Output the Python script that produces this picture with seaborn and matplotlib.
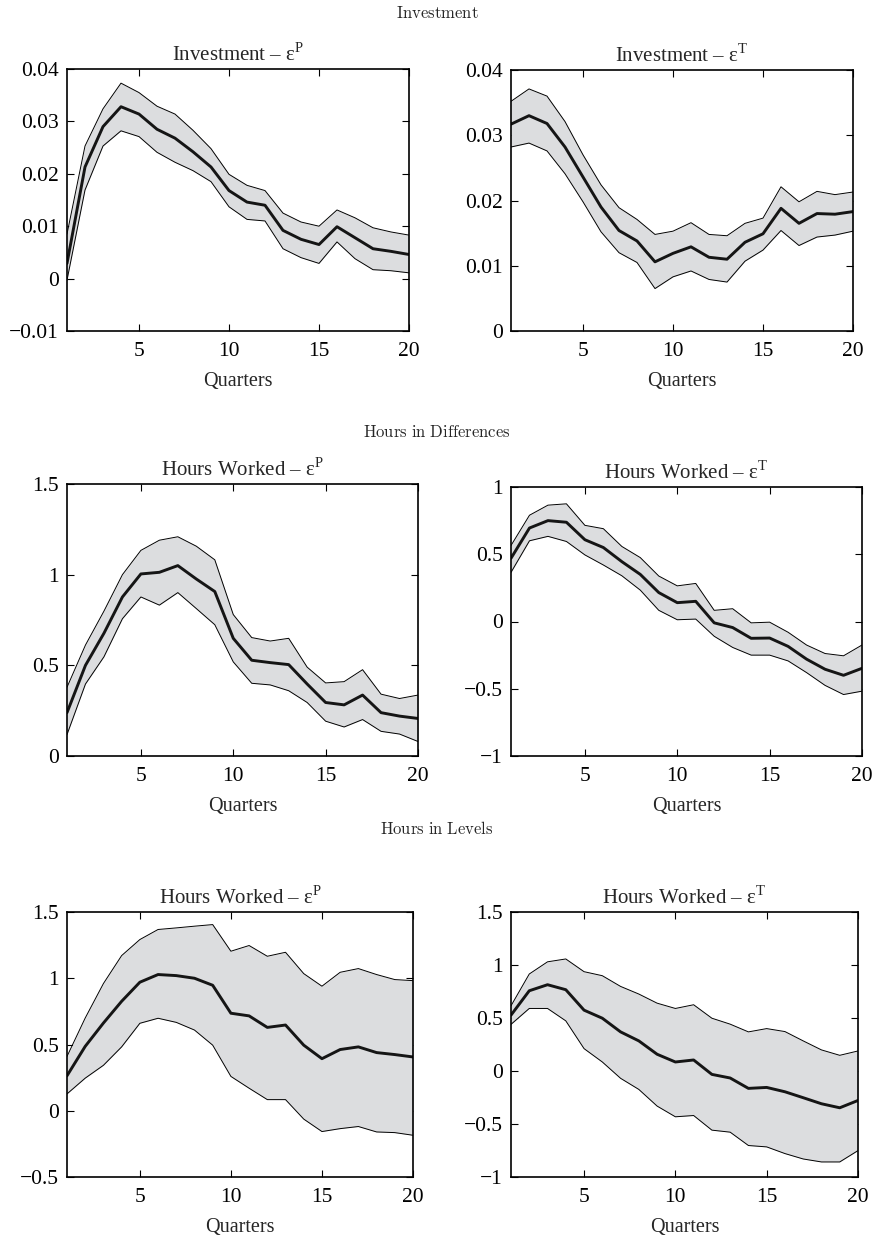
import numpy as np
import matplotlib
matplotlib.use("Agg")
import matplotlib.pyplot as plt
import matplotlib.ticker as mticker
import seaborn as sns

sns.set_style("ticks")
plt.rcParams['font.family'] = ['Liberation Serif', 'DejaVu Serif']
plt.rcParams['mathtext.fontset'] = 'custom'
plt.rcParams['mathtext.rm'] = 'Liberation Serif'

''' DATA: impulse responses (median and bands) over 20 quarters
'''
quarters = np.arange(1, 21)

inv_p_mid = [0.0029, 0.0213, 0.0290, 0.0328, 0.0314, 0.0285, 0.0268, 0.0242, 0.0213, 0.0168,
             0.0146, 0.0140, 0.0092, 0.0075, 0.0065, 0.0099, 0.0078, 0.0057, 0.0052, 0.0046]
inv_p_up = [0.0085, 0.0253, 0.0324, 0.0373, 0.0355, 0.0329, 0.0314, 0.0283, 0.0248, 0.0199,
            0.0178, 0.0168, 0.0125, 0.0108, 0.0100, 0.0131, 0.0116, 0.0097, 0.0089, 0.0083]
inv_p_lo = [-0.0003, 0.0169, 0.0253, 0.0282, 0.0271, 0.0241, 0.0222, 0.0206, 0.0185, 0.0137,
            0.0113, 0.0110, 0.0057, 0.0040, 0.0029, 0.0070, 0.0038, 0.0017, 0.0015, 0.0011]

inv_t_mid = [0.0317, 0.0330, 0.0318, 0.0282, 0.0236, 0.0190, 0.0154, 0.0138, 0.0106, 0.0119,
             0.0129, 0.0113, 0.0110, 0.0136, 0.0149, 0.0188, 0.0165, 0.0180, 0.0179, 0.0183]
inv_t_up = [0.0352, 0.0371, 0.0360, 0.0321, 0.0270, 0.0224, 0.0189, 0.0171, 0.0148, 0.0153,
            0.0166, 0.0148, 0.0146, 0.0165, 0.0173, 0.0221, 0.0198, 0.0214, 0.0209, 0.0213]
inv_t_lo = [0.0282, 0.0288, 0.0276, 0.0241, 0.0198, 0.0152, 0.0120, 0.0105, 0.0065, 0.0083,
            0.0092, 0.0079, 0.0075, 0.0107, 0.0124, 0.0154, 0.0131, 0.0144, 0.0147, 0.0153]

hd_p_mid = [0.239, 0.500, 0.677, 0.877, 1.004, 1.013, 1.050, 0.976, 0.907, 0.649,
            0.528, 0.515, 0.504, 0.397, 0.295, 0.282, 0.336, 0.239, 0.220, 0.207]
hd_p_up = [0.379, 0.612, 0.799, 1.000, 1.134, 1.190, 1.209, 1.157, 1.082, 0.780,
           0.653, 0.634, 0.649, 0.490, 0.403, 0.410, 0.476, 0.341, 0.317, 0.336]
hd_p_lo = [0.118, 0.397, 0.547, 0.757, 0.877, 0.832, 0.901, 0.813, 0.724, 0.519,
           0.401, 0.392, 0.360, 0.295, 0.192, 0.160, 0.201, 0.136, 0.121, 0.080]

hd_t_mid = [0.470, 0.695, 0.750, 0.738, 0.608, 0.550, 0.445, 0.350, 0.215, 0.140,
            0.150, -0.010, -0.045, -0.125, -0.123, -0.185, -0.280, -0.355, -0.400, -0.348]
hd_t_up = [0.565, 0.790, 0.865, 0.875, 0.715, 0.690, 0.558, 0.475, 0.338, 0.265,
           0.283, 0.083, 0.095, -0.010, -0.005, -0.080, -0.175, -0.238, -0.255, -0.175]
hd_t_lo = [0.365, 0.600, 0.633, 0.595, 0.495, 0.420, 0.340, 0.233, 0.083, 0.013,
           0.018, -0.110, -0.193, -0.250, -0.250, -0.293, -0.380, -0.475, -0.543, -0.518]

hl_p_mid = [0.264, 0.486, 0.662, 0.826, 0.970, 1.028, 1.020, 1.000, 0.947, 0.736,
            0.716, 0.629, 0.647, 0.495, 0.393, 0.462, 0.482, 0.439, 0.424, 0.406]
hl_p_up = [0.410, 0.700, 0.960, 1.171, 1.292, 1.368, 1.380, 1.393, 1.405, 1.204,
           1.247, 1.166, 1.196, 1.035, 0.940, 1.045, 1.073, 1.028, 0.990, 0.982]
hl_p_lo = [0.127, 0.246, 0.343, 0.482, 0.660, 0.698, 0.667, 0.609, 0.495, 0.259,
           0.170, 0.084, 0.084, -0.063, -0.157, -0.135, -0.119, -0.160, -0.165, -0.185]

hl_t_mid = [0.527, 0.757, 0.814, 0.767, 0.574, 0.498, 0.369, 0.284, 0.158, 0.085,
            0.104, -0.032, -0.066, -0.164, -0.155, -0.196, -0.252, -0.309, -0.347, -0.278]
hl_t_up = [0.615, 0.915, 1.030, 1.057, 0.937, 0.899, 0.798, 0.726, 0.640, 0.590,
           0.625, 0.498, 0.442, 0.369, 0.400, 0.372, 0.284, 0.199, 0.148, 0.189]
hl_t_lo = [0.440, 0.590, 0.590, 0.473, 0.211, 0.085, -0.069, -0.174, -0.331, -0.432,
           -0.420, -0.558, -0.577, -0.703, -0.716, -0.779, -0.830, -0.858, -0.858, -0.751]

titles = ['Investment – ε$^{\\rm P}$', 'Investment – ε$^{\\rm T}$',
          'Hours Worked – ε$^{\\rm P}$', 'Hours Worked – ε$^{\\rm T}$',
          'Hours Worked – ε$^{\\rm P}$', 'Hours Worked – ε$^{\\rm T}$']
row_titles = ['Investment', 'Hours\\ in\\ Differences', 'Hours\\ in\\ Levels']
ylims = [(-0.01, 0.04), (0, 0.04), (0, 1.5), (-1, 1), (-0.5, 1.5), (-1, 1.5)]
yticks = [[-0.01, 0, 0.01, 0.02, 0.03, 0.04], [0, 0.01, 0.02, 0.03, 0.04],
          [0, 0.5, 1, 1.5], [-1, -0.5, 0, 0.5, 1],
          [-0.5, 0, 0.5, 1, 1.5], [-1, -0.5, 0, 0.5, 1, 1.5]]
panels = [(inv_p_mid, inv_p_lo, inv_p_up), (inv_t_mid, inv_t_lo, inv_t_up),
          (hd_p_mid, hd_p_lo, hd_p_up), (hd_t_mid, hd_t_lo, hd_t_up),
          (hl_p_mid, hl_p_lo, hl_p_up), (hl_t_mid, hl_t_lo, hl_t_up)]

''' LAYOUT (pixel boxes of the axes: left, top, right, bottom)
'''
W, H = 874, 1241
boxes = [(67, 69, 409, 331), (511, 70, 853, 331),
         (67, 484, 418, 756), (511, 487, 862, 756),
         (67, 912, 413, 1177), (511, 912, 858, 1177)]
row_title_y = [14, 433, 830]


def fmt(v, pos):
    s = '%g' % v
    return s.replace('-', '\u2212')


fig = plt.figure(figsize=(W / 100, H / 100), dpi=100)

for i, (mid, lo, up) in enumerate(panels):
    l, t, r, b = boxes[i]
    ax = fig.add_axes([l / W, 1 - b / H, (r - l) / W, (b - t) / H])
    ax.fill_between(quarters, lo, up, color='#dcdddf', lw=0)
    sns.lineplot(x=quarters, y=up, color='black', lw=0.7, ax=ax)
    sns.lineplot(x=quarters, y=lo, color='black', lw=0.7, ax=ax)
    sns.lineplot(x=quarters, y=mid, color='#151515', lw=2.1, ax=ax)
    ax.set_xlim(1, 20)
    ax.set_ylim(*ylims[i])
    ax.set_xticks([5, 10, 15, 20])
    ax.set_yticks(yticks[i])
    ax.yaxis.set_major_formatter(mticker.FuncFormatter(fmt))
    ax.tick_params(direction='in', top=True, right=True, length=5, width=0.8,
                   labelsize=15.5, pad=6, colors='black')
    ax.tick_params(axis='x', pad=8)
    for sp in ax.spines.values():
        sp.set_linewidth(1.2)
        sp.set_color('black')
    ax.set_title(titles[i], fontsize=15, pad=6)
    ax.set_xlabel('Quarters', fontsize=14.5, labelpad=8)
    ax.set_ylabel('')

for k, y in enumerate(row_title_y):
    fig.text(0.5, 1 - y / H, '$\\mathrm{' + row_titles[k] + '}$', ha='center', va='center',
             fontsize=12, math_fontfamily='cm')

plt.savefig('out.png', dpi=100)
